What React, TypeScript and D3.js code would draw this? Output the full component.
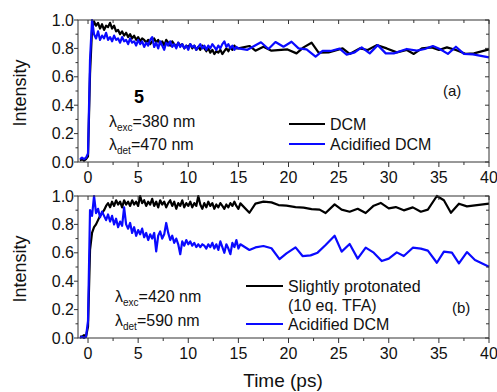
import { useEffect, useRef } from "react"
import * as d3 from "d3"

// dense sampling grid (ps), -0.8 .. 15.0
const denseTime = [
  -0.8, -0.6, -0.4, -0.2, 0, 0.2, 0.4, 0.6, 0.8, 1.0,
  1.2, 1.4, 1.6, 1.8, 2.0, 2.2, 2.4, 2.6, 2.8, 3.0,
  3.2, 3.4, 3.6, 3.8, 4.0, 4.2, 4.4, 4.6, 4.8, 5.0,
  5.2, 5.4, 5.6, 5.8, 6.0, 6.2, 6.4, 6.6, 6.8, 7.0,
  7.2, 7.4, 7.6, 7.8, 8.0, 8.2, 8.4, 8.6, 8.8, 9.0,
  9.2, 9.4, 9.6, 9.8, 10.0, 10.2, 10.4, 10.6, 10.8, 11.0,
  11.2, 11.4, 11.6, 11.8, 12.0, 12.2, 12.4, 12.6, 12.8, 13.0,
  13.2, 13.4, 13.6, 13.8, 14.0, 14.2, 14.4, 14.6, 14.8, 15.0,
]

// panel (a)
const topDcmDense = [
  0.01, 0.02, 0.01, 0.02, 0.04, 0.62, 0.93, 0.99, 0.96, 0.98,
  0.94, 0.97, 0.93, 0.96, 0.95, 0.98, 0.94, 0.96, 0.92, 0.93,
  0.90, 0.92, 0.89, 0.91, 0.88, 0.90, 0.87, 0.89, 0.86, 0.88,
  0.85, 0.87, 0.86, 0.84, 0.86, 0.83, 0.85, 0.87, 0.84, 0.86,
  0.83, 0.85, 0.82, 0.86, 0.84, 0.82, 0.85, 0.83, 0.81, 0.84,
  0.82, 0.83, 0.80, 0.82, 0.81, 0.83, 0.80, 0.82, 0.79, 0.81,
  0.79, 0.82, 0.80, 0.78, 0.80, 0.77, 0.79, 0.76, 0.78, 0.77,
  0.79, 0.76, 0.78, 0.80, 0.78, 0.81, 0.79, 0.82, 0.80, 0.80,
]
const topAcidDense = [
  0.02, 0.03, 0.02, 0.03, 0.06, 0.72, 1.0, 0.90, 0.87, 0.92,
  0.86, 0.89, 0.87, 0.91, 0.86, 0.88, 0.85, 0.89, 0.86, 0.87,
  0.84, 0.88, 0.85, 0.86, 0.83, 0.87, 0.84, 0.85, 0.82, 0.86,
  0.83, 0.85, 0.81, 0.84, 0.82, 0.86, 0.88, 0.81, 0.84, 0.80,
  0.85, 0.82, 0.79, 0.84, 0.82, 0.85, 0.81, 0.83, 0.80, 0.84,
  0.81, 0.83, 0.80, 0.82, 0.79, 0.83, 0.81, 0.82, 0.79, 0.81,
  0.83, 0.80, 0.82, 0.79, 0.82, 0.80, 0.83, 0.81, 0.79, 0.82,
  0.80, 0.83, 0.85, 0.81, 0.83, 0.80, 0.82, 0.79, 0.81, 0.80,
]
const topDcmTailTime = [
  16.1, 16.7, 17.5, 18.3, 19.9, 20.8, 21.5, 22.3, 23.0, 24.0,
  25.4, 26.1, 27.1, 27.9, 28.8, 29.8, 30.8, 31.8, 32.5, 33.3,
  34.3, 35.0, 35.8, 36.7, 37.7, 38.5, 40.0,
]
const topDcmTail = [
  0.817, 0.784, 0.812, 0.784, 0.793, 0.765, 0.807, 0.84, 0.77, 0.772,
  0.80, 0.761, 0.80, 0.789, 0.823, 0.80, 0.772, 0.789, 0.761, 0.80,
  0.807, 0.789, 0.807, 0.789, 0.761, 0.765, 0.793,
]
const topAcidTailTime = [
  15.9, 17.25, 18.0, 18.7, 19.5, 20.3, 21.0, 21.8, 22.7, 23.4,
  24.2, 25.1, 25.8, 26.6, 27.3, 28.1, 28.9, 29.7, 30.5, 31.8,
  32.8, 33.6, 34.4, 35.1, 35.9, 36.7, 37.5, 38.4, 40.0,
]
const topAcidTail = [
  0.79, 0.843, 0.796, 0.845, 0.812, 0.847, 0.80, 0.793, 0.742, 0.782,
  0.782, 0.798, 0.756, 0.772, 0.807, 0.765, 0.823, 0.765, 0.765, 0.796,
  0.784, 0.796, 0.817, 0.796, 0.761, 0.812, 0.761, 0.758, 0.737,
]

// panel (b)
const botTfaDense = [
  0.01, 0.01, 0.02, 0.01, 0.08, 0.62, 0.74, 0.78, 0.80, 0.83,
  0.86, 0.88, 0.90, 0.93, 0.95, 0.92, 0.96, 0.93, 0.97, 0.94,
  0.96, 0.92, 0.97, 0.94, 0.96, 0.93, 0.97, 0.94, 0.96, 0.93,
  1.0, 0.95, 0.97, 0.93, 0.96, 0.94, 0.98, 0.93, 0.96, 0.92,
  0.97, 0.94, 0.96, 0.92, 0.95, 0.97, 0.93, 0.96, 0.91, 0.95,
  0.93, 0.97, 0.92, 0.95, 0.93, 0.96, 0.92, 0.95, 0.93, 1.0,
  0.94, 0.91, 0.95, 0.92, 0.96, 0.93, 0.95, 0.91, 0.94, 0.92,
  0.95, 0.93, 0.91, 0.94, 0.92, 0.95, 0.93, 0.96, 0.93, 0.91,
]
const botAcidDense = [
  0.00, 0.01, 0.00, 0.01, 0.12, 0.90, 0.86, 1.0, 0.88, 0.91,
  0.85, 0.89, 0.86, 0.83, 0.87, 0.82, 0.86, 0.80, 0.84, 0.78,
  0.82, 0.79, 0.92, 0.80, 0.77, 0.81, 0.74, 0.78, 0.72, 0.76,
  0.73, 0.77, 0.71, 0.74, 0.69, 0.73, 0.70, 0.74, 0.61, 0.72,
  0.75, 0.70, 0.73, 0.81, 0.74, 0.69, 0.72, 0.67, 0.70, 0.66,
  0.59, 0.68, 0.65, 0.69, 0.66, 0.68, 0.65, 0.67, 0.64, 0.66,
  0.64, 0.66, 0.65, 0.63, 0.66, 0.64, 0.67, 0.63, 0.66, 0.62,
  0.68, 0.64, 0.60, 0.66, 0.63, 0.59, 0.67, 0.64, 0.69, 0.63,
]
const botTfaTailTime = [
  15.2, 16.1, 16.7, 17.5, 18.3, 19.0, 19.8, 20.7, 21.5, 22.3,
  23.1, 23.7, 24.6, 25.3, 26.1, 26.9, 27.7, 28.5, 29.2, 30.0,
  30.7, 31.5, 32.4, 33.2, 33.9, 34.8, 35.5, 36.2, 37.0, 37.8, 40.0,
]
const botTfaTail = [
  0.948, 0.882, 0.946, 0.96, 0.955, 0.936, 0.932, 0.922, 0.918, 0.908,
  0.904, 0.88, 0.941, 0.904, 0.889, 0.91, 0.88, 0.932, 0.951, 0.913,
  0.922, 0.899, 0.92, 0.889, 0.904, 1.0, 0.97, 0.882, 0.946, 0.927, 0.946,
]
const botAcidTailTime = [
  15.2, 16.1, 16.7, 17.5, 18.3, 19.1, 19.8, 20.7, 21.4, 22.2,
  22.9, 23.7, 24.6, 25.3, 26.1, 26.9, 27.7, 28.5, 29.3, 30.0,
  30.8, 31.5, 32.4, 33.2, 33.9, 34.8, 35.5, 36.3, 37.0, 37.8, 38.6, 40.0,
]
const botAcidTail = [
  0.66, 0.62, 0.638, 0.648, 0.632, 0.556, 0.596, 0.638, 0.577, 0.582,
  0.601, 0.655, 0.72, 0.608, 0.662, 0.559, 0.636, 0.601, 0.542, 0.559,
  0.603, 0.577, 0.636, 0.629, 0.615, 0.53, 0.608, 0.601, 0.526, 0.605, 0.549, 0.502,
]

const xTicks = [0, 5, 10, 15, 20, 25, 30, 35, 40]
const xMinor = [2.5, 7.5, 12.5, 17.5, 22.5, 27.5, 32.5, 37.5]
const yTicks = [0, 0.2, 0.4, 0.6, 0.8, 1.0]
const yMinor = [0.1, 0.3, 0.5, 0.7, 0.9]

const FONT = "'Liberation Sans', Arial, sans-serif"
const BLUE = "#0a0aff"

type Pt = { t: number; v: number }
const toPts = (ts: number[], vs: number[]): Pt[] => ts.map((t, i) => ({ t, v: vs[i] }))

export default function App() {
  const svgRef = useRef<SVGSVGElement>(null)

  useEffect(() => {
    if (!svgRef.current) return
    const width = 497
    const height = 392
    const left = 78
    const right = 489

    d3.select(svgRef.current).selectAll("*").remove()
    const svg = d3.select(svgRef.current).attr("width", width).attr("height", height)

    const x = d3.scaleLinear().domain([-1, 40]).range([left, right])

    const panels = [
      {
        top: 20,
        bottom: 162,
        series: [
          { pts: toPts(denseTime.concat(topDcmTailTime), topDcmDense.concat(topDcmTail)), color: "#000" },
          { pts: toPts(denseTime.concat(topAcidTailTime), topAcidDense.concat(topAcidTail)), color: BLUE },
        ],
      },
      {
        top: 196,
        bottom: 338,
        series: [
          { pts: toPts(denseTime.concat(botTfaTailTime), botTfaDense.concat(botTfaTail)), color: "#000" },
          { pts: toPts(denseTime.concat(botAcidTailTime), botAcidDense.concat(botAcidTail)), color: BLUE },
        ],
      },
    ]

    panels.forEach((p) => {
      const y = d3.scaleLinear().domain([0, 1]).range([p.bottom, p.top])
      const g = svg.append("g")

      const line = d3
        .line<Pt>()
        .x((d) => x(d.t))
        .y((d) => y(d.v))

      p.series.forEach((s) => {
        g.append("path")
          .datum(s.pts)
          .attr("fill", "none")
          .attr("stroke", s.color)
          .attr("stroke-width", 2.2)
          .attr("stroke-linejoin", "round")
          .attr("d", line)
      })

      // frame
      g.append("rect")
        .attr("x", left)
        .attr("y", p.top)
        .attr("width", right - left)
        .attr("height", p.bottom - p.top)
        .attr("fill", "none")
        .attr("stroke", "#333")
        .attr("stroke-width", 1)

      const tick = (x1: number, y1: number, x2: number, y2: number) =>
        g.append("line")
          .attr("x1", x1).attr("y1", y1).attr("x2", x2).attr("y2", y2)
          .attr("stroke", "#333").attr("stroke-width", 1)

      // x ticks: outward on bottom, inward on top
      xTicks.forEach((t) => {
        tick(x(t), p.bottom, x(t), p.bottom + 5)
        tick(x(t), p.top, x(t), p.top + 4)
      })
      xMinor.forEach((t) => {
        tick(x(t), p.bottom, x(t), p.bottom + 3)
        tick(x(t), p.top, x(t), p.top + 3)
      })
      // y ticks: outward on left, inward on right
      yTicks.forEach((v) => {
        tick(left - 4, y(v), left, y(v))
        tick(right - 4, y(v), right, y(v))
      })
      yMinor.forEach((v) => {
        tick(left - 2.5, y(v), left, y(v))
        tick(right - 3, y(v), right, y(v))
      })

      g.selectAll(".xl")
        .data(xTicks)
        .join("text")
        .attr("x", (d) => x(d))
        .attr("y", p.bottom + 21)
        .attr("text-anchor", "middle")
        .attr("font-family", FONT)
        .attr("font-size", 16)
        .attr("fill", "#111")
        .text((d) => String(d))

      g.selectAll(".yl")
        .data(yTicks)
        .join("text")
        .attr("x", left - 4)
        .attr("y", (d) => y(d) + 5.5)
        .attr("text-anchor", "end")
        .attr("font-family", FONT)
        .attr("font-size", 16)
        .attr("fill", "#111")
        .text((d) => d3.format(".1f")(d))

      g.append("text")
        .attr("transform", `translate(26,${(p.top + p.bottom) / 2 + 2}) rotate(-90)`)
        .attr("text-anchor", "middle")
        .attr("font-family", FONT)
        .attr("font-size", 18)
        .attr("fill", "#111")
        .text("Intensity")
    })

    const txt = (tx: number, ty: number, s: string, size = 16) =>
      svg.append("text")
        .attr("x", tx).attr("y", ty)
        .attr("font-family", FONT).attr("font-size", size).attr("fill", "#111")
        .text(s)

    const lambda = (tx: number, ty: number, sub: string, rest: string) => {
      const t = svg.append("text")
        .attr("x", tx).attr("y", ty)
        .attr("font-family", FONT).attr("font-size", 16).attr("fill", "#111")
      t.append("tspan").text("λ")
      t.append("tspan").attr("font-size", 10).attr("dy", 4).text(sub)
      t.append("tspan").attr("dy", -4).text(rest)
    }

    const legLine = (x1: number, x2: number, ly: number, color: string) =>
      svg.append("line")
        .attr("x1", x1).attr("x2", x2).attr("y1", ly).attr("y2", ly)
        .attr("stroke", color).attr("stroke-width", 2)

    // panel (a) annotations
    svg.append("text")
      .attr("x", 139).attr("y", 103).attr("text-anchor", "middle")
      .attr("font-family", FONT).attr("font-size", 18).attr("font-weight", "bold")
      .text("5")
    lambda(109, 127, "exc", "=380 nm")
    lambda(109, 150, "det", "=470 nm")
    legLine(289, 325, 124, "#000")
    txt(330, 130, "DCM")
    legLine(289, 325, 144, BLUE)
    txt(330, 150, "Acidified DCM")
    txt(443, 96, "(a)", 15)

    // panel (b) annotations
    lambda(115, 302, "exc", "=420 nm")
    lambda(115, 326, "det", "=590 nm")
    legLine(246, 283, 286, "#000")
    txt(288, 292, "Slightly protonated")
    txt(288, 311, "(10 eq. TFA)")
    legLine(246, 283, 324, BLUE)
    txt(288, 330, "Acidified DCM")
    txt(452, 313, "(b)", 15)

    svg.append("text")
      .attr("x", 283).attr("y", 387).attr("text-anchor", "middle")
      .attr("font-family", FONT).attr("font-size", 19).attr("fill", "#111")
      .text("Time (ps)")
  }, [])

  return <svg ref={svgRef} style={{ position: "absolute", left: 0, top: 0 }} />
}
